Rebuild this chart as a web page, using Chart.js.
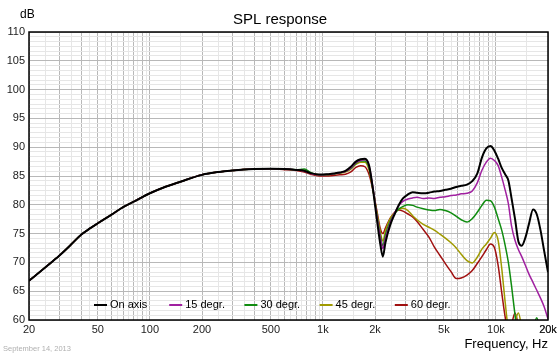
<!DOCTYPE html>
<html><head><meta charset="utf-8">
<script src="https://cdn.jsdelivr.net/npm/chart.js@4.4.1/dist/chart.umd.min.js"></script>
<style>html,body{margin:0;padding:0;background:#fff}#wrap{width:560px;height:356px}</style>
</head><body><div id="wrap"><canvas id="c" width="560" height="356"></canvas></div>
<script>
// ---- data ----
const freqHz = [20,25,30,35,40,45,50,60,70,80,
  100,120,150,200,250,300,400,500,600,700,
  780,850,950,1050,1150,1250,1350,1450,1550,1650,
  1750,1850,1950,2050,2150,2220,2300,2450,2600,2750,
  2900,3100,3300,3500,3800,4100,4400,4750,5100,5500,
  5900,6300,6800,7300,7800,8300,8800,9300,9800,10300,
  10800,11300,11800,12300,12900,13500,14100,14800,15500,16400,
  17200,18100,19000,20000];
const onAxis = [66.8,69.2,71.2,73.1,74.8,75.9,76.8,78.3,79.6,80.5,
  82.0,83.0,84.0,85.2,85.7,85.95,86.2,86.25,86.2,86.05,
  85.9,85.5,85.25,85.3,85.45,85.6,85.9,86.6,87.5,87.9,
  88.0,86.8,82.5,77.5,73.0,71.0,73.5,76.5,78.4,80.0,
  81.1,81.8,82.2,82.1,82.0,82.1,82.3,82.4,82.6,82.8,
  83.1,83.3,83.5,84.1,85.4,88.2,89.8,90.2,89.4,88.0,
  86.4,85.3,84.2,81.2,77.5,73.6,72.9,74.3,76.6,79.2,
  78.4,75.6,72.0,68.3];
const deg15 = [66.8,69.2,71.2,73.1,74.8,75.9,76.8,78.3,79.6,80.5,
  82.0,83.0,84.0,85.2,85.7,85.95,86.2,86.25,86.2,86.05,
  85.85,85.45,85.2,85.25,85.4,85.55,85.8,86.4,87.3,87.7,
  87.8,86.7,82.8,78.0,74.2,72.4,74.3,76.9,78.6,79.9,
  80.6,81.0,81.2,81.3,81.1,81.2,81.1,81.3,81.4,81.6,
  81.7,81.9,82.0,82.4,83.8,86.0,87.4,88.1,87.7,86.8,
  84.8,82.6,80.2,76.4,73.8,72.2,71.0,69.5,68.0,66.5,
  65.2,63.8,62.3,60.2];
const deg30 = [66.8,69.2,71.2,73.1,74.8,75.9,76.8,78.3,79.6,80.5,
  82.0,83.0,84.0,85.2,85.7,85.95,86.2,86.25,86.2,86.1,
  86.2,85.6,85.2,85.25,85.4,85.55,85.8,86.3,87.2,87.6,
  87.6,86.4,82.6,78.3,74.6,72.9,74.8,77.2,78.5,79.3,
  79.7,80.0,79.9,79.6,79.3,79.1,79.0,79.2,79.0,78.6,
  78.0,77.4,77.0,77.6,78.7,79.9,80.8,80.7,79.6,77.6,
  75.6,73.0,70.0,66.0,60.8,56.5,54.5,54.0,55.0,58.0,
  60.4,58.0,55.0,53.0];
const deg45 = [66.8,69.2,71.2,73.1,74.8,75.9,76.8,78.3,79.6,80.5,
  82.0,83.0,84.0,85.2,85.7,85.95,86.2,86.25,86.2,86.05,
  85.9,85.5,85.2,85.2,85.35,85.5,85.7,86.2,87.0,87.4,
  87.4,86.0,82.5,78.6,75.2,73.7,75.5,77.6,78.6,79.2,
  79.4,79.0,78.1,77.4,76.6,76.1,75.6,74.9,74.2,73.4,
  72.5,71.4,70.3,69.9,70.9,72.3,73.2,74.2,75.2,73.8,
  69.0,63.2,58.5,57.8,59.8,61.2,58.5,55.0,53.0,52.0,
  51.0,50.0,50.0,50.0];
const deg60 = [66.8,69.2,71.2,73.1,74.8,75.9,76.8,78.3,79.6,80.5,
  82.0,83.0,84.0,85.2,85.7,85.95,86.2,86.2,86.1,85.95,
  85.7,85.3,85.0,85.0,85.1,85.2,85.3,85.7,86.5,86.8,
  86.6,85.2,82.4,79.0,75.8,75.0,76.0,77.7,78.7,79.1,
  78.9,78.4,77.9,77.1,75.7,74.4,72.7,71.2,69.8,68.4,
  67.2,67.3,67.8,68.6,69.8,71.0,72.2,73.2,72.6,69.5,
  64.8,60.6,57.8,59.2,61.2,58.8,55.0,52.0,50.0,50.0,
  50.0,50.0,50.0,50.0];
const seriesLabels = ['On axis','15 degr.','30 degr.','45 degr.','60 degr.'];
const xTickValues = [20,50,100,200,500,1000,2000,5000,10000,20000];
const xTickText = ['20','50','100','200','500','1k','2k','5k','10k','20k'];
const yTickValues = [60,65,70,75,80,85,90,95,100,105,110];

// ---- styles ----
const seriesColors = ['#000000','#a020a0','#108c10','#a09a00','#a01010'];
const seriesWidths = [2,1.5,1.5,1.5,1.5];
const FONT = '"Liberation Sans", Arial, Helvetica, sans-serif';
Chart.defaults.font.family = FONT;

const seriesValues = [onAxis,deg15,deg30,deg45,deg60];

// grid positions (1..9 and half-steps per decade)
const xGrid = [];
[10,100,1000,10000].forEach(d=>{
  for (let m=1;m<10;m+=0.5){ const v=m*d; if(v>=20&&v<=20000) xGrid.push(v); }
});
xGrid.push(20000);
const yGrid = [];
for (let i=0;i<=60;i++) yGrid.push(60+i*5/6);

const isXMajor = v => { const e=Math.pow(10,Math.floor(Math.log10(v)+1e-9)); return Math.abs(v/e-Math.round(v/e))<1e-6; };
const isYMajor = v => Math.abs(v/5-Math.round(v/5))<1e-6;

const decor = {
  id:'decor',
  afterDraw(chart){
    const {ctx, chartArea:a} = chart;
    ctx.save();
    ctx.strokeStyle='#000'; ctx.lineWidth=1.5;
    ctx.strokeRect(a.left, a.top, a.right-a.left, a.bottom-a.top);
    ctx.fillStyle='#000'; ctx.font='12px '+FONT; ctx.textAlign='left'; ctx.textBaseline='middle';
    ctx.fillText('dB', 20, 15);
    ctx.fillStyle='#b0b0b0'; ctx.font='7.5px '+FONT;
    ctx.fillText('September 14, 2013', 3, 349);
    // legend inside plot
    chart.data.datasets.forEach((ds,i)=>{
      const x0 = 94 + i*75.2, y = 305;
      ctx.strokeStyle = ds.borderColor; ctx.lineWidth = 2;
      ctx.beginPath(); ctx.moveTo(x0,y); ctx.lineTo(x0+13,y); ctx.stroke();
      ctx.fillStyle='#000'; ctx.font='11px '+FONT; ctx.textBaseline='middle';
      ctx.fillText(ds.label, x0+16, y);
    });
    ctx.restore();
  }
};

new Chart(document.getElementById('c'), {
  type:'line',
  data:{
    datasets: seriesLabels.map((lab,i)=>({
      label: lab,
      data: freqHz.map((f,j)=>({x:f, y:seriesValues[i][j]})),
      borderColor: seriesColors[i],
      borderWidth: seriesWidths[i],
      pointRadius: 0,
      fill:false,
      cubicInterpolationMode:'monotone'
    }))
  },
  options:{
    responsive:false, animation:false, devicePixelRatio:1,
    layout:{padding:{left:6,right:6,top:0,bottom:0}},
    plugins:{
      legend:{display:false}, tooltip:{enabled:false},
      title:{display:true, text:'SPL response', color:'#000', font:{size:15, weight:'normal'}, padding:{top:11,bottom:3}}
    },
    scales:{
      x:{
        type:'logarithmic', min:20, max:20000,
        afterBuildTicks(s){ s.ticks = xGrid.map(v=>({value:v})); },
        afterFit(s){ s.height = 36; s.paddingRight = 12; s.paddingLeft = 0; },
        ticks:{ autoSkip:false, maxRotation:0, minRotation:0, padding:3, color:'#222', font:{size:11},
          callback(v){ const k = xTickValues.findIndex(t=>Math.abs(t-v)<1e-6); return k>=0 ? xTickText[k] : ''; } },
        grid:{ drawTicks:false, lineWidth:1, color: c => (c.tick && isXMajor(c.tick.value)) ? '#b8b8b8' : '#e6e6e6' },
        border:{display:false},
        title:{display:true, text:'Frequency, Hz', align:'end', color:'#000', font:{size:13}, padding:{top:0,bottom:4}}
      },
      y:{
        type:'linear', min:60, max:110,
        afterBuildTicks(s){ s.ticks = yGrid.map(v=>({value:v})); },
        afterFit(s){ s.width = 23; },
        ticks:{ autoSkip:false, padding:4, color:'#222', font:{size:11},
          callback(v){ const k = yTickValues.findIndex(t=>Math.abs(t-v)<1e-6); return k>=0 ? String(yTickValues[k]) : ''; } },
        grid:{ drawTicks:false, lineWidth:1, color: c => (c.tick && isYMajor(c.tick.value)) ? '#b8b8b8' : '#e6e6e6' },
        border:{display:false}
      }
    }
  },
  plugins:[decor]
});
</script></body></html>
